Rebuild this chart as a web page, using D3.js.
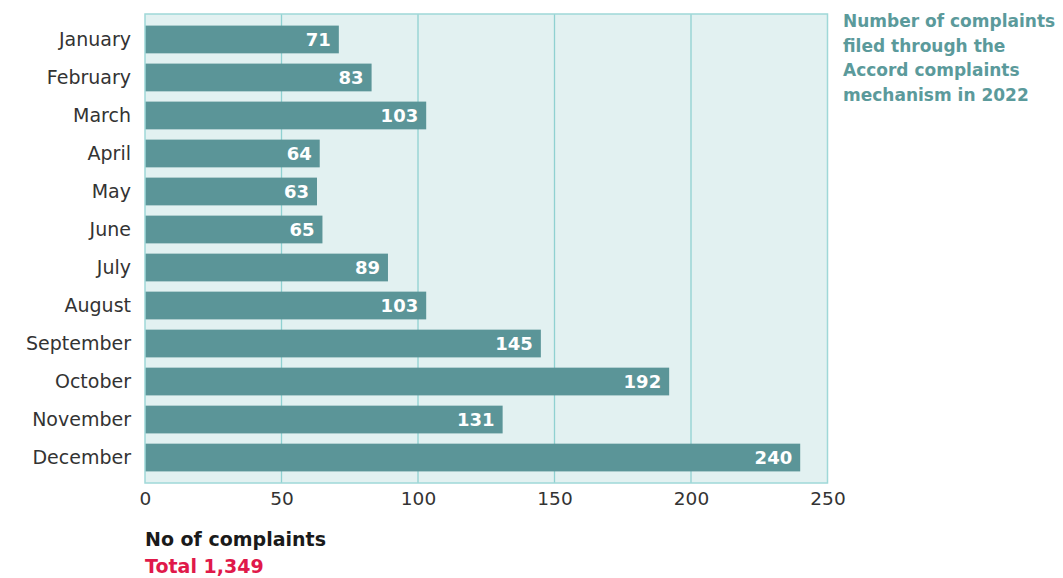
<!DOCTYPE html>
<html><head><meta charset="utf-8">
<script src="https://cdn.jsdelivr.net/npm/d3@7"></script>
<style>
body{margin:0;background:#fff;}
svg{display:block;}
text{font-family:"DejaVu Sans",sans-serif;}
</style></head>
<body><svg id="chart" width="1063" height="578"></svg>
<script>
const months = ["January","February","March","April","May","June","July","August","September","October","November","December"];
const complaints = [71,83,103,64,63,65,89,103,145,192,131,240];
const xTicks = [0,50,100,150,200,250];
const titleLines = ["Number of complaints","filed through the","Accord complaints","mechanism in 2022"];
const axisTitle = "No of complaints";
const totalLabel = "Total 1,349";

const svg = d3.select("#chart");
const pL = 145, pR = 827.5, pT = 14, pB = 483;
const FONT = "'DejaVu Sans', sans-serif";

const x = d3.scaleLinear().domain([0,250]).range([pL,pR]);
const y = d3.scaleBand().domain(months).range([pT,pB]).paddingInner(0.27).paddingOuter(0.305);

svg.append("rect").attr("x",pL).attr("y",pT).attr("width",pR-pL).attr("height",pB-pT)
  .attr("fill","#e2f1f1");

svg.append("g").selectAll("line").data(xTicks.slice(1,-1)).join("line")
  .attr("x1",d=>x(d)).attr("x2",d=>x(d)).attr("y1",pT).attr("y2",pB)
  .attr("stroke","#8fd1d1").attr("stroke-width",1.3);

svg.append("g").selectAll("rect").data(complaints).join("rect")
  .attr("x",x(0)).attr("y",(d,i)=>y(months[i])).attr("width",d=>x(d)-x(0)).attr("height",y.bandwidth())
  .attr("fill","#5b9598");

svg.append("rect").attr("x",pL).attr("y",pT).attr("width",pR-pL).attr("height",pB-pT)
  .attr("fill","none").attr("stroke","#9fd8d8").attr("stroke-width",1.5);

svg.append("g").selectAll("text").data(complaints).join("text")
  .attr("x",d=>x(d)-8).attr("y",(d,i)=>y(months[i])+y.bandwidth()/2).attr("dy","0.36em")
  .attr("text-anchor","end").attr("fill","#fff").attr("font-weight","bold").attr("font-size",18)
  .text(d=>d);

const yAxis = d3.axisLeft(y).tickSize(0).tickPadding(14);
const ya = svg.append("g").attr("transform",`translate(${pL},0)`).call(yAxis);
ya.select(".domain").remove();
ya.selectAll("text").attr("font-size",19).attr("fill","#333").attr("font-family",FONT);

const xAxis = d3.axisBottom(x).tickValues(xTicks).tickSize(0).tickPadding(9);
const xa = svg.append("g").attr("transform",`translate(0,${pB})`).call(xAxis);
xa.select(".domain").remove();
xa.selectAll("text").attr("font-size",18.5).attr("fill","#333").attr("font-family",FONT);

svg.append("text").attr("x",pL).attr("y",546).attr("font-weight","bold").attr("font-size",19)
  .attr("fill","#1a1a1a").text(axisTitle);
svg.append("text").attr("x",pL).attr("y",573).attr("font-weight","bold").attr("font-size",19)
  .attr("fill","#e0194a").text(totalLabel);

svg.append("g").selectAll("text").data(titleLines).join("text")
  .attr("x",843).attr("y",(d,i)=>27+i*24.5).attr("font-weight","bold").attr("font-size",17)
  .attr("fill","#5b9a9b").text(d=>d);
</script></body></html>
